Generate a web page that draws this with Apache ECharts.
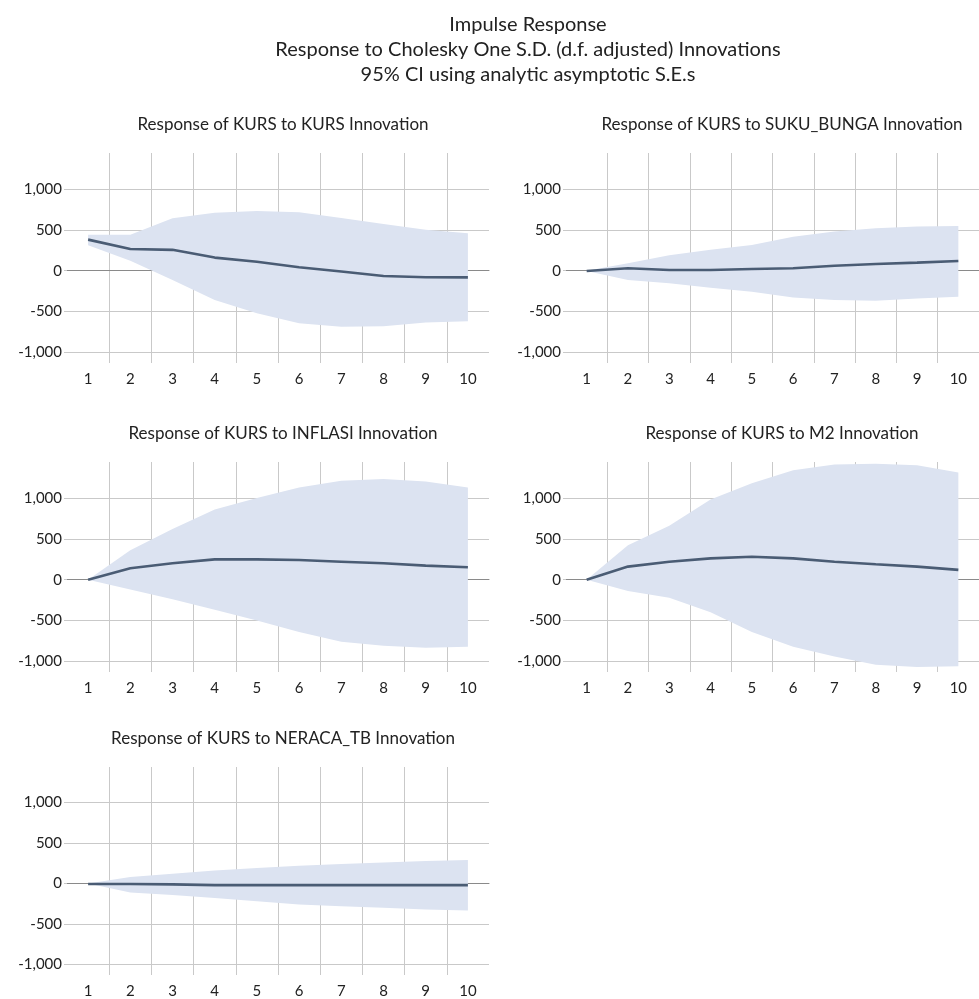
<!DOCTYPE html>
<html lang="en">
<head>
    <meta charset="UTF-8">
    <title>Impulse Response</title>
    <script src="https://cdn.jsdelivr.net/npm/echarts@6.0.0/dist/echarts.min.js"></script>
    <style>
        html, body { margin: 0; padding: 0; background: #fff; }
        #main { width: 979px; height: 999px; }
    </style>
</head>
<body>
    <div id="main"></div>

    <script>
        // periods
        var periods = ['1', '2', '3', '4', '5', '6', '7', '8', '9', '10'];
        var yTicks = [-1000, -500, 0, 500, 1000];

        // Response of KURS to KURS
        var kursLine  = [380, 265, 255, 160, 110, 42, -10, -65, -80, -82];
        var kursUpper = [440, 440, 640, 710, 730, 715, 645, 570, 500, 458];
        var kursLower = [310, 120, -115, -360, -520, -645, -685, -680, -635, -618];

        // Response of KURS to SUKU_BUNGA
        var sukuLine  = [-5, 29, 8, 8, 20, 29, 61, 82, 98, 119];
        var sukuUpper = [0, 90, 190, 255, 315, 415, 480, 520, 540, 548];
        var sukuLower = [-5, -115, -155, -210, -258, -327, -360, -368, -340, -320];

        // Response of KURS to INFLASI
        var inflLine  = [0, 140, 200, 248, 248, 240, 220, 200, 172, 152];
        var inflUpper = [0, 360, 620, 860, 1000, 1128, 1212, 1232, 1200, 1128];
        var inflLower = [0, -120, -240, -368, -500, -640, -760, -808, -832, -820];

        // Response of KURS to M2
        var m2Line  = [0, 160, 220, 260, 280, 260, 220, 188, 160, 120];
        var m2Upper = [0, 420, 660, 980, 1180, 1340, 1410, 1420, 1400, 1310];
        var m2Lower = [0, -140, -220, -400, -640, -820, -940, -1040, -1070, -1060];

        // Response of KURS to NERACA_TB
        var nerLine  = [-5, -5, -10, -20, -20, -20, -20, -20, -20, -20];
        var nerUpper = [0, 80, 120, 160, 192, 220, 240, 260, 280, 292];
        var nerLower = [0, -112, -140, -180, -220, -260, -280, -300, -320, -332];

        var panels = [
            { name: 'Response of KURS to KURS Innovation', line: kursLine, upper: kursUpper, lower: kursLower, left: 67, top: 153 },
            { name: 'Response of KURS to SUKU_BUNGA Innovation', line: sukuLine, upper: sukuUpper, lower: sukuLower, left: 566, top: 153 },
            { name: 'Response of KURS to INFLASI Innovation', line: inflLine, upper: inflUpper, lower: inflLower, left: 67, top: 462 },
            { name: 'Response of KURS to M2 Innovation', line: m2Line, upper: m2Upper, lower: m2Lower, left: 566, top: 462 },
            { name: 'Response of KURS to NERACA_TB Innovation', line: nerLine, upper: nerUpper, lower: nerLower, left: 67, top: 767 }
        ];

        var font = 'Lato, "Open Sans", sans-serif';
        var gridW = 422, gridH = 210;

        var titles = [{
            text: 'Impulse Response\nResponse to Cholesky One S.D. (d.f. adjusted) Innovations\n95% CI using analytic asymptotic S.E.s',
            left: 523,
            top: 7,
            textAlign: 'center',
            textStyle: { fontFamily: font, fontSize: 20, fontWeight: 'normal', color: '#222', lineHeight: 25 }
        }];
        var grids = [], xAxes = [], yAxes = [], series = [];

        panels.forEach(function (p, i) {
            titles.push({
                text: p.name,
                left: p.left + gridW / 2,
                top: p.top - 42,
                textAlign: 'center',
                textStyle: { fontFamily: font, fontSize: 17, fontWeight: 'normal', color: '#222' }
            });
            grids.push({ left: p.left, top: p.top, width: gridW, height: gridH });
            xAxes.push({
                type: 'category',
                gridIndex: i,
                data: periods,
                boundaryGap: true,
                axisLine: { onZero: true, lineStyle: { color: '#8a8a8a', width: 1 } },
                axisTick: { show: false },
                axisLabel: { fontFamily: font, fontSize: 15, color: '#222', margin: 9 },
                splitLine: { show: true, showMinLine: false, showMaxLine: false, lineStyle: { color: '#c9c9c9', width: 1 } }
            });
            yAxes.push({
                type: 'value',
                gridIndex: i,
                min: -1130,
                max: 1440,
                axisLine: { show: false },
                axisTick: { show: true, length: 3, customValues: yTicks, lineStyle: { color: '#c9c9c9' } },
                axisLabel: {
                    fontFamily: font, fontSize: 15, color: '#222', margin: 5,
                    customValues: yTicks,
                    formatter: function (v) { return v.toLocaleString('en-US'); }
                },
                splitLine: { show: true, lineStyle: { color: '#c9c9c9', width: 1 } }
            });
            var diff = p.upper.map(function (u, k) { return u - p.lower[k]; });
            series.push({
                type: 'line', xAxisIndex: i, yAxisIndex: i,
                data: p.lower, stack: 'band' + i, stackStrategy: 'all',
                symbol: 'none', silent: true,
                lineStyle: { opacity: 0 }
            });
            series.push({
                type: 'line', xAxisIndex: i, yAxisIndex: i,
                data: diff, stack: 'band' + i, stackStrategy: 'all',
                symbol: 'none', silent: true,
                lineStyle: { opacity: 0 },
                areaStyle: { color: '#dce3f1', opacity: 1 }
            });
            series.push({
                type: 'line', xAxisIndex: i, yAxisIndex: i,
                data: p.line,
                symbol: 'none',
                lineStyle: { color: '#4a5c74', width: 2.6 },
                z: 5
            });
        });

        var chart = echarts.init(document.getElementById('main'));
        chart.setOption({
            animation: false,
            backgroundColor: '#fff',
            title: titles,
            grid: grids,
            xAxis: xAxes,
            yAxis: yAxes,
            series: series
        });
    </script>
</body>
</html>
